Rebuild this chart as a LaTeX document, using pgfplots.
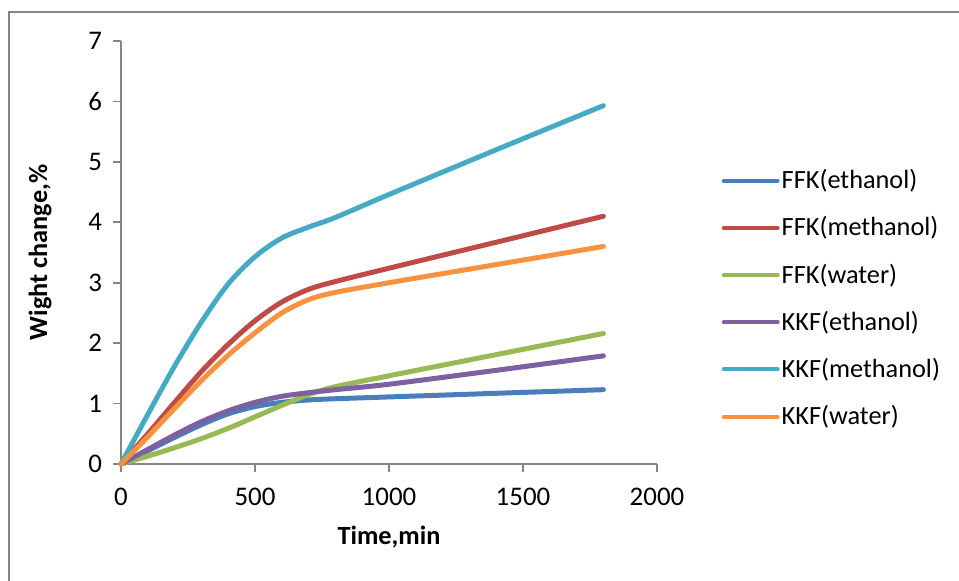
\documentclass[border=0pt]{standalone}
\usepackage{pgfplots}
\pgfplotsset{compat=1.18}
\usepackage{fontspec}
\setmainfont{Carlito}
\definecolor{cblue}{HTML}{4A7EBB}
\definecolor{cred}{HTML}{BE4B48}
\definecolor{cgreen}{HTML}{98B954}
\definecolor{cpurple}{HTML}{7D60A0}
\definecolor{ccyan}{HTML}{46AAC5}
\definecolor{corange}{HTML}{F69240}
\definecolor{axgray}{HTML}{868686}
\begin{document}
\begin{tikzpicture}
\path[use as bounding box] (0,0) rectangle (479.5bp,290.5bp);
\draw[axgray, line width=0.9bp] (4.5bp,0) -- (4.5bp,284.5bp) -- (479.5bp,284.5bp);
\begin{axis}[
  at={(60.5bp,58.5bp)}, anchor=origin,
  scale only axis, width=268bp, height=211.5bp,
  xmin=0, xmax=2000, ymin=0, ymax=7,
  xtick={0,500,...,2000}, ytick={0,1,...,7},
  axis x line*=bottom, axis y line*=left,
  axis line style={axgray, line width=0.9bp, -},
  tick style={axgray, line width=0.9bp},
  tick align=outside, major tick length=4bp,
  /pgf/number format/assume math mode=true,
  /pgf/number format/1000 sep={},
  ticklabel style={font=\fontsize{13.5}{15}\selectfont},
  xticklabel style={yshift=-4.5bp},
  yticklabel style={xshift=-2bp},
  xlabel={\textbf{Time,min}}, ylabel={\textbf{Wight change,\%}},
  label style={font=\fontsize{13.2}{15}\selectfont},
  xlabel style={at={(axis description cs:0.5,-0.1726)}, anchor=center},
  ylabel style={at={(axis description cs:-0.151,0.5)}, anchor=center},
  every axis plot/.append style={line width=2.5bp, smooth, tension=0.5, line cap=round},
  legend style={draw=none, fill=none, at={(1.12,0.391)}, anchor=west,
    font=\fontsize{13.2}{15}\selectfont, row sep=10.5bp, inner sep=0pt,
    nodes={inner sep=1pt}},
  legend cell align=left,
  legend image code/.code={\draw[#1, line width=2bp] (0bp,0bp) -- (27bp,0bp);},
  clip=false,
]
\addplot[cblue] coordinates {(0,0) (100,0.22) (200,0.44) (300,0.65) (400,0.83) (500,0.95) (600,1.02) (700,1.06) (800,1.08) (1000,1.11) (1400,1.17) (1800,1.23)};
\addlegendentry{FFK(ethanol)}
\addplot[cred] coordinates {(0,0) (100,0.5) (200,1.02) (300,1.53) (400,1.98) (500,2.37) (600,2.68) (700,2.89) (800,3.02) (1000,3.24) (1400,3.67) (1800,4.1)};
\addlegendentry{FFK(methanol)}
\addplot[cgreen] coordinates {(0,0) (100,0.13) (200,0.27) (300,0.42) (400,0.59) (500,0.78) (600,0.97) (700,1.15) (800,1.28) (1000,1.46) (1400,1.81) (1800,2.16)};
\addlegendentry{FFK(water)}
\addplot[cpurple] coordinates {(0,0) (100,0.24) (200,0.48) (300,0.7) (400,0.88) (500,1.02) (600,1.12) (700,1.18) (800,1.23) (1000,1.32) (1400,1.55) (1800,1.79)};
\addlegendentry{KKF(ethanol)}
\addplot[ccyan] coordinates {(0,0) (100,0.82) (200,1.62) (300,2.35) (400,2.98) (500,3.43) (600,3.74) (700,3.92) (800,4.08) (1000,4.46) (1400,5.2) (1800,5.93)};
\addlegendentry{KKF(methanol)}
\addplot[corange] coordinates {(0,0) (100,0.45) (200,0.92) (300,1.38) (400,1.8) (500,2.17) (600,2.5) (700,2.72) (800,2.84) (1000,3.0) (1400,3.3) (1800,3.6)};
\addlegendentry{KKF(water)}
\end{axis}
\end{tikzpicture}
\end{document}
